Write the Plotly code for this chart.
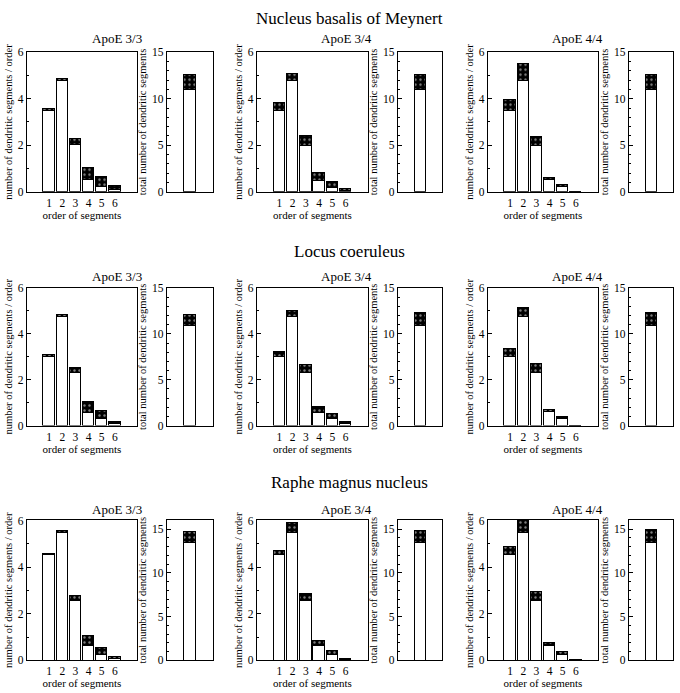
import plotly.graph_objects as go

# ---------------- data ----------------
orders = [1, 2, 3, 4, 5, 6]
order_labels = ["1", "2", "3", "4", "5", "6"]
regions = ["Nucleus basalis of Meynert", "Locus coeruleus", "Raphe magnus nucleus"]
genotypes = ["ApoE 3/3", "ApoE 3/4", "ApoE 4/4"]

# white (lower) part and top of each bar, per order of segments
nbm_33_white = [3.48, 4.74, 1.98, 0.48, 0.18, 0.05]
nbm_33_top = [3.56, 4.82, 2.27, 1.01, 0.62, 0.22]
nbm_34_white = [3.48, 4.74, 1.96, 0.46, 0.17, 0.03]
nbm_34_top = [3.79, 5.07, 2.38, 0.79, 0.39, 0.11]
nbm_44_white = [3.48, 4.74, 1.96, 0.50, 0.18, 0.0]
nbm_44_top = [3.93, 5.47, 2.33, 0.60, 0.27, 0.0]
nbm_total_white = [10.87, 10.87, 10.94]
nbm_total_top = [12.48, 12.48, 12.55]

lc_33_white = [2.99, 4.73, 2.29, 0.57, 0.29, 0.06]
lc_33_top = [3.06, 4.81, 2.51, 1.03, 0.64, 0.14]
lc_34_white = [2.99, 4.73, 2.29, 0.57, 0.29, 0.06]
lc_34_top = [3.20, 5.00, 2.63, 0.81, 0.49, 0.17]
lc_44_white = [2.99, 4.73, 2.29, 0.60, 0.29, 0.0]
lc_44_top = [3.34, 5.14, 2.69, 0.69, 0.37, 0.0]
lc_total_white = [10.9, 10.9, 10.9]
lc_total_top = [12.09, 12.24, 12.30]

rmn_33_white = [4.51, 5.49, 2.55, 0.61, 0.24, 0.07]
rmn_33_top = [4.58, 5.56, 2.79, 1.04, 0.55, 0.17]
rmn_34_white = [4.51, 5.49, 2.55, 0.61, 0.24, 0.03]
rmn_34_top = [4.72, 5.89, 2.85, 0.85, 0.43, 0.07]
rmn_44_white = [4.51, 5.49, 2.55, 0.61, 0.24, 0.02]
rmn_44_top = [4.89, 6.03, 2.96, 0.75, 0.35, 0.04]
rmn_total_white = [13.41, 13.41, 13.41]
rmn_total_top = [14.73, 14.81, 14.92]

order_white = [[nbm_33_white, nbm_34_white, nbm_44_white],
               [lc_33_white, lc_34_white, lc_44_white],
               [rmn_33_white, rmn_34_white, rmn_44_white]]
order_top = [[nbm_33_top, nbm_34_top, nbm_44_top],
             [lc_33_top, lc_34_top, lc_44_top],
             [rmn_33_top, rmn_34_top, rmn_44_top]]
total_white = [nbm_total_white, lc_total_white, rmn_total_white]
total_top = [nbm_total_top, lc_total_top, rmn_total_top]

left_yrange = [[0, 6], [0, 6], [0, 6.03]]
total_yrange = [[0, 15], [0, 15], [0, 16.05]]

# ---------------- layout geometry (pixels) ----------------
W, H = 680, 693
left_x = [(27, 137), (257, 368), (488, 598)]
total_x = [(167, 213), (398, 442), (629, 673)]
row_y = [(47, 189), (287, 427), (523, 666)]
title_y = [13, 250, 485]
sub_y = [33, 275, 512]

FONT = "Liberation Serif"
fig = go.Figure()
layout = {}

pattern = dict(shape=".", fgcolor="white", bgcolor="black", size=5, solidity=0.18)

def px_x(a, b):
    return [a / W, b / W]

def px_y(t, b):
    return [1 - b / H, 1 - t / H]

for r in range(3):
    for g in range(3):
        for p in range(2):
            idx = r * 6 + g * 2 + p + 1
            xa = "x" if idx == 1 else f"x{idx}"
            ya = "y" if idx == 1 else f"y{idx}"
            xkey = "xaxis" if idx == 1 else f"xaxis{idx}"
            ykey = "yaxis" if idx == 1 else f"yaxis{idx}"
            if p == 0:
                xs = orders
                wv = order_white[r][g]
                tv = order_top[r][g]
                width = 0.88
                xr = [-0.69, 7.69]
                dom = px_x(*left_x[g])
            else:
                xs = [0]
                wv = [total_white[r][g]]
                tv = [total_top[r][g]]
                width = 0.5
                xr = [-1, 1]
                dom = px_x(*total_x[g])
            diff = [round(t - w, 4) for t, w in zip(tv, wv)]
            fig.add_trace(go.Bar(x=xs, y=wv, width=width, xaxis=xa, yaxis=ya,
                                 marker=dict(color="white", line=dict(color="black", width=1.3)),
                                 showlegend=False, hoverinfo="skip"))
            fig.add_trace(go.Bar(x=xs, y=diff, width=width, xaxis=xa, yaxis=ya,
                                 marker=dict(color="black", pattern=pattern,
                                             line=dict(color="black", width=1.3)),
                                 showlegend=False, hoverinfo="skip"))
            ax_common = dict(showline=True, linecolor="black", linewidth=1.4, mirror=True,
                             showgrid=False, zeroline=False, fixedrange=True)
            if p == 0:
                layout[xkey] = dict(domain=dom, range=xr, anchor=ya, tickmode="array",
                                    tickvals=orders, ticktext=order_labels, ticks="",
                                    tickfont=dict(family=FONT, size=11.5, color="black"),
                                    title=dict(text="order of segments", standoff=0,
                                               font=dict(family=FONT, size=11, color="black")),
                                    **ax_common)
                layout[ykey] = dict(domain=px_y(*row_y[r]), range=left_yrange[r], anchor=xa,
                                    tickmode="linear", tick0=0, dtick=2, ticks="inside",
                                    ticklen=4, tickcolor="black",
                                    minor=dict(ticks="inside", ticklen=2, dtick=1, tick0=0,
                                               tickcolor="black"),
                                    tickfont=dict(family=FONT, size=11.5, color="black"),
                                    title=dict(text="number of dendritic segments / order",
                                               standoff=3,
                                               font=dict(family=FONT, size=10.5, color="black")),
                                    **ax_common)
            else:
                layout[xkey] = dict(domain=dom, range=xr, anchor=ya, showticklabels=False,
                                    ticks="", **ax_common)
                layout[ykey] = dict(domain=px_y(*row_y[r]), range=total_yrange[r], anchor=xa,
                                    tickmode="linear", tick0=0, dtick=5, ticks="inside",
                                    ticklen=4, tickcolor="black",
                                    minor=dict(ticks="inside", ticklen=2, dtick=1, tick0=0,
                                               tickcolor="black"),
                                    tickfont=dict(family=FONT, size=11.5, color="black"),
                                    title=dict(text="total number of dendritic segments",
                                               standoff=3,
                                               font=dict(family=FONT, size=10.5, color="black")),
                                    **ax_common)

annotations = []
for r in range(3):
    annotations.append(dict(text=regions[r], x=350 / W, y=1 - title_y[r] / H,
                            xref="paper", yref="paper", xanchor="center", yanchor="middle",
                            showarrow=False, font=dict(family=FONT, size=17, color="black")))
    for g in range(3):
        cx = (left_x[g][0] + total_x[g][1]) / 2 - 3
        annotations.append(dict(text=genotypes[g], x=cx / W, y=1 - sub_y[r] / H,
                                xref="paper", yref="paper", xanchor="center", yanchor="middle",
                                showarrow=False, font=dict(family=FONT, size=13, color="black")))

fig.update_layout(width=W, height=H, autosize=False, margin=dict(l=0, r=0, t=0, b=0),
                  paper_bgcolor="white", plot_bgcolor="white", barmode="stack",
                  bargap=0, annotations=annotations, **layout)

fig.write_html("out.html", config={"displayModeBar": False},
               post_script="document.body.style.margin='0';document.body.style.padding='0';")
